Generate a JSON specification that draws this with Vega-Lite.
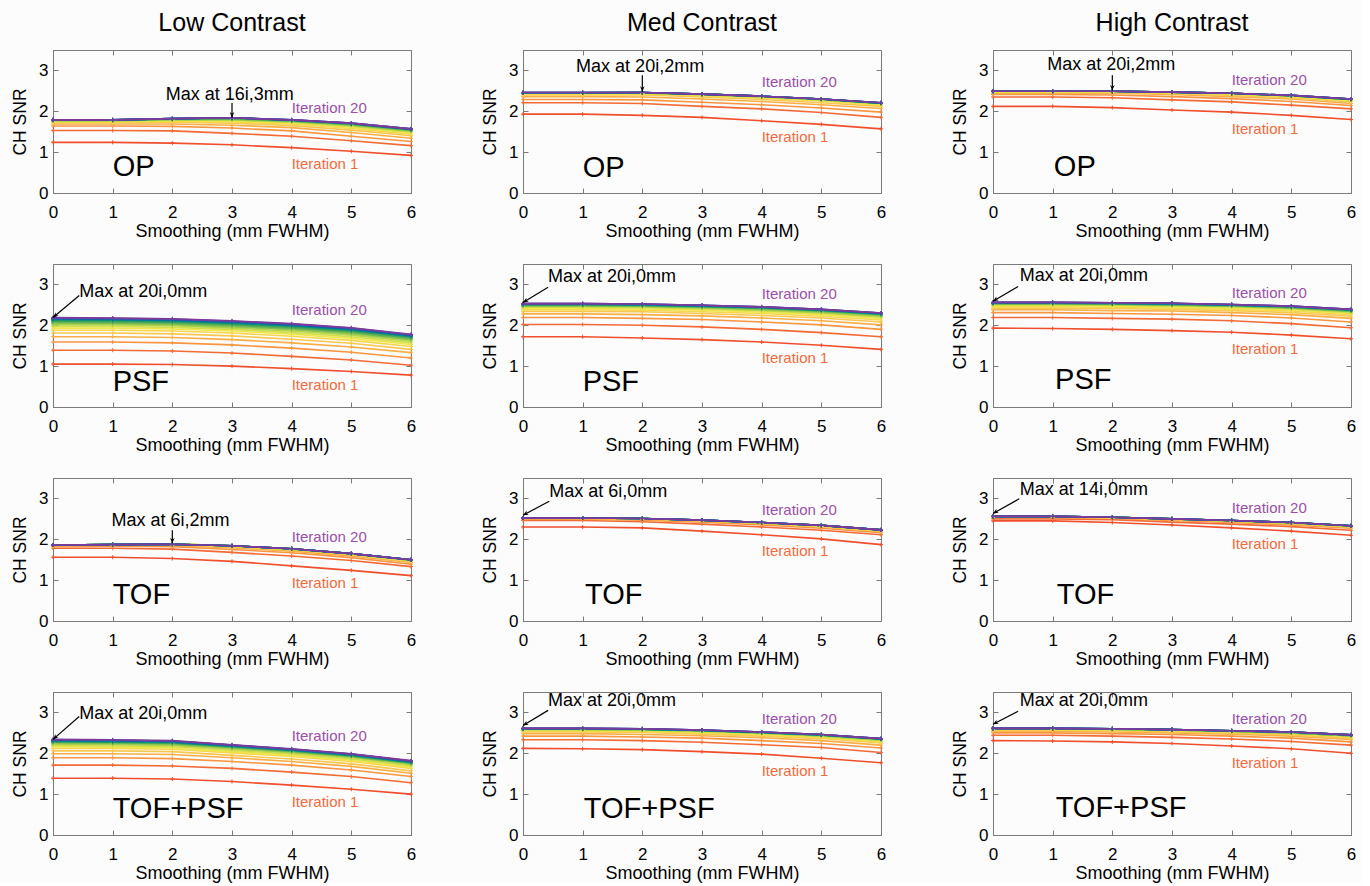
{
"$schema": "https://vega.github.io/schema/vega-lite/v6.json",
"background": "#fcfcfd",
"padding": {"left": 11, "top": 11, "right": 5, "bottom": 0},
"data": {"values": [
{"t":"L","c":"Low Contrast","m":"OP","i":1,"0":1.24,"1":1.24,"2":1.22,"3":1.18,"4":1.11,"5":1.02,"6":0.92},
{"t":"L","c":"Low Contrast","m":"OP","i":2,"0":1.53,"1":1.53,"2":1.52,"3":1.46,"4":1.39,"5":1.28,"6":1.16},
{"t":"L","c":"Low Contrast","m":"OP","i":3,"0":1.64,"1":1.64,"2":1.63,"3":1.59,"4":1.52,"5":1.39,"6":1.26},
{"t":"L","c":"Low Contrast","m":"OP","i":4,"0":1.69,"1":1.69,"2":1.69,"3":1.66,"4":1.60,"5":1.48,"6":1.34},
{"t":"L","c":"Low Contrast","m":"OP","i":5,"0":1.72,"1":1.72,"2":1.73,"3":1.71,"4":1.65,"5":1.54,"6":1.40},
{"t":"L","c":"Low Contrast","m":"OP","i":6,"0":1.74,"1":1.74,"2":1.75,"3":1.74,"4":1.69,"5":1.58,"6":1.44},
{"t":"L","c":"Low Contrast","m":"OP","i":7,"0":1.75,"1":1.75,"2":1.77,"3":1.76,"4":1.71,"5":1.61,"6":1.47},
{"t":"L","c":"Low Contrast","m":"OP","i":8,"0":1.76,"1":1.76,"2":1.78,"3":1.78,"4":1.73,"5":1.63,"6":1.49},
{"t":"L","c":"Low Contrast","m":"OP","i":9,"0":1.77,"1":1.77,"2":1.79,"3":1.79,"4":1.74,"5":1.65,"6":1.51},
{"t":"L","c":"Low Contrast","m":"OP","i":10,"0":1.77,"1":1.77,"2":1.80,"3":1.80,"4":1.75,"5":1.66,"6":1.52},
{"t":"L","c":"Low Contrast","m":"OP","i":11,"0":1.78,"1":1.78,"2":1.80,"3":1.81,"4":1.76,"5":1.67,"6":1.53},
{"t":"L","c":"Low Contrast","m":"OP","i":12,"0":1.78,"1":1.78,"2":1.81,"3":1.82,"4":1.77,"5":1.68,"6":1.54},
{"t":"L","c":"Low Contrast","m":"OP","i":13,"0":1.78,"1":1.78,"2":1.81,"3":1.83,"4":1.77,"5":1.69,"6":1.55},
{"t":"L","c":"Low Contrast","m":"OP","i":14,"0":1.79,"1":1.79,"2":1.81,"3":1.83,"4":1.78,"5":1.69,"6":1.55},
{"t":"L","c":"Low Contrast","m":"OP","i":15,"0":1.79,"1":1.79,"2":1.82,"3":1.84,"4":1.78,"5":1.70,"6":1.56},
{"t":"L","c":"Low Contrast","m":"OP","i":16,"0":1.79,"1":1.79,"2":1.82,"3":1.84,"4":1.78,"5":1.70,"6":1.56},
{"t":"L","c":"Low Contrast","m":"OP","i":17,"0":1.79,"1":1.79,"2":1.82,"3":1.84,"4":1.79,"5":1.70,"6":1.56},
{"t":"L","c":"Low Contrast","m":"OP","i":18,"0":1.79,"1":1.79,"2":1.82,"3":1.84,"4":1.79,"5":1.71,"6":1.57},
{"t":"L","c":"Low Contrast","m":"OP","i":19,"0":1.79,"1":1.79,"2":1.82,"3":1.84,"4":1.79,"5":1.71,"6":1.57},
{"t":"L","c":"Low Contrast","m":"OP","i":20,"0":1.79,"1":1.79,"2":1.82,"3":1.84,"4":1.79,"5":1.71,"6":1.57},
{"t":"L","c":"Med Contrast","m":"OP","i":1,"0":1.93,"1":1.93,"2":1.90,"3":1.85,"4":1.77,"5":1.68,"6":1.57},
{"t":"L","c":"Med Contrast","m":"OP","i":2,"0":2.21,"1":2.21,"2":2.19,"3":2.12,"4":2.06,"5":1.97,"6":1.85},
{"t":"L","c":"Med Contrast","m":"OP","i":3,"0":2.29,"1":2.29,"2":2.28,"3":2.22,"4":2.16,"5":2.08,"6":1.98},
{"t":"L","c":"Med Contrast","m":"OP","i":4,"0":2.36,"1":2.36,"2":2.35,"3":2.30,"4":2.24,"5":2.16,"6":2.07},
{"t":"L","c":"Med Contrast","m":"OP","i":5,"0":2.40,"1":2.40,"2":2.40,"3":2.35,"4":2.29,"5":2.21,"6":2.12},
{"t":"L","c":"Med Contrast","m":"OP","i":6,"0":2.42,"1":2.42,"2":2.42,"3":2.38,"4":2.32,"5":2.25,"6":2.15},
{"t":"L","c":"Med Contrast","m":"OP","i":7,"0":2.43,"1":2.43,"2":2.43,"3":2.39,"4":2.34,"5":2.27,"6":2.17},
{"t":"L","c":"Med Contrast","m":"OP","i":8,"0":2.44,"1":2.44,"2":2.44,"3":2.40,"4":2.35,"5":2.28,"6":2.18},
{"t":"L","c":"Med Contrast","m":"OP","i":9,"0":2.44,"1":2.44,"2":2.45,"3":2.41,"4":2.36,"5":2.28,"6":2.19},
{"t":"L","c":"Med Contrast","m":"OP","i":10,"0":2.45,"1":2.45,"2":2.45,"3":2.41,"4":2.36,"5":2.29,"6":2.19},
{"t":"L","c":"Med Contrast","m":"OP","i":11,"0":2.45,"1":2.45,"2":2.45,"3":2.41,"4":2.36,"5":2.29,"6":2.20},
{"t":"L","c":"Med Contrast","m":"OP","i":12,"0":2.45,"1":2.45,"2":2.46,"3":2.42,"4":2.37,"5":2.29,"6":2.20},
{"t":"L","c":"Med Contrast","m":"OP","i":13,"0":2.45,"1":2.45,"2":2.46,"3":2.42,"4":2.37,"5":2.30,"6":2.20},
{"t":"L","c":"Med Contrast","m":"OP","i":14,"0":2.45,"1":2.45,"2":2.46,"3":2.42,"4":2.37,"5":2.30,"6":2.20},
{"t":"L","c":"Med Contrast","m":"OP","i":15,"0":2.45,"1":2.45,"2":2.46,"3":2.42,"4":2.37,"5":2.30,"6":2.20},
{"t":"L","c":"Med Contrast","m":"OP","i":16,"0":2.45,"1":2.45,"2":2.46,"3":2.42,"4":2.37,"5":2.30,"6":2.20},
{"t":"L","c":"Med Contrast","m":"OP","i":17,"0":2.46,"1":2.46,"2":2.46,"3":2.42,"4":2.37,"5":2.30,"6":2.21},
{"t":"L","c":"Med Contrast","m":"OP","i":18,"0":2.46,"1":2.46,"2":2.46,"3":2.42,"4":2.37,"5":2.30,"6":2.21},
{"t":"L","c":"Med Contrast","m":"OP","i":19,"0":2.46,"1":2.46,"2":2.46,"3":2.42,"4":2.37,"5":2.30,"6":2.21},
{"t":"L","c":"Med Contrast","m":"OP","i":20,"0":2.46,"1":2.46,"2":2.46,"3":2.42,"4":2.37,"5":2.30,"6":2.21},
{"t":"L","c":"High Contrast","m":"OP","i":1,"0":2.12,"1":2.12,"2":2.09,"3":2.03,"4":1.98,"5":1.90,"6":1.80},
{"t":"L","c":"High Contrast","m":"OP","i":2,"0":2.35,"1":2.35,"2":2.33,"3":2.28,"4":2.23,"5":2.15,"6":2.06},
{"t":"L","c":"High Contrast","m":"OP","i":3,"0":2.41,"1":2.41,"2":2.40,"3":2.36,"4":2.31,"5":2.24,"6":2.14},
{"t":"L","c":"High Contrast","m":"OP","i":4,"0":2.44,"1":2.44,"2":2.44,"3":2.41,"4":2.36,"5":2.30,"6":2.19},
{"t":"L","c":"High Contrast","m":"OP","i":5,"0":2.46,"1":2.46,"2":2.46,"3":2.43,"4":2.39,"5":2.33,"6":2.23},
{"t":"L","c":"High Contrast","m":"OP","i":6,"0":2.47,"1":2.47,"2":2.47,"3":2.45,"4":2.41,"5":2.35,"6":2.26},
{"t":"L","c":"High Contrast","m":"OP","i":7,"0":2.48,"1":2.48,"2":2.48,"3":2.46,"4":2.42,"5":2.36,"6":2.27},
{"t":"L","c":"High Contrast","m":"OP","i":8,"0":2.48,"1":2.48,"2":2.48,"3":2.46,"4":2.43,"5":2.37,"6":2.28},
{"t":"L","c":"High Contrast","m":"OP","i":9,"0":2.49,"1":2.49,"2":2.49,"3":2.47,"4":2.43,"5":2.38,"6":2.29},
{"t":"L","c":"High Contrast","m":"OP","i":10,"0":2.49,"1":2.49,"2":2.49,"3":2.47,"4":2.44,"5":2.38,"6":2.29},
{"t":"L","c":"High Contrast","m":"OP","i":11,"0":2.49,"1":2.49,"2":2.49,"3":2.47,"4":2.44,"5":2.38,"6":2.29},
{"t":"L","c":"High Contrast","m":"OP","i":12,"0":2.49,"1":2.49,"2":2.49,"3":2.47,"4":2.44,"5":2.38,"6":2.29},
{"t":"L","c":"High Contrast","m":"OP","i":13,"0":2.49,"1":2.49,"2":2.49,"3":2.47,"4":2.44,"5":2.38,"6":2.29},
{"t":"L","c":"High Contrast","m":"OP","i":14,"0":2.49,"1":2.49,"2":2.49,"3":2.47,"4":2.44,"5":2.38,"6":2.29},
{"t":"L","c":"High Contrast","m":"OP","i":15,"0":2.49,"1":2.49,"2":2.49,"3":2.47,"4":2.44,"5":2.39,"6":2.30},
{"t":"L","c":"High Contrast","m":"OP","i":16,"0":2.49,"1":2.49,"2":2.49,"3":2.47,"4":2.44,"5":2.39,"6":2.30},
{"t":"L","c":"High Contrast","m":"OP","i":17,"0":2.49,"1":2.49,"2":2.49,"3":2.47,"4":2.44,"5":2.39,"6":2.30},
{"t":"L","c":"High Contrast","m":"OP","i":18,"0":2.49,"1":2.49,"2":2.49,"3":2.47,"4":2.44,"5":2.39,"6":2.30},
{"t":"L","c":"High Contrast","m":"OP","i":19,"0":2.49,"1":2.49,"2":2.49,"3":2.47,"4":2.44,"5":2.39,"6":2.30},
{"t":"L","c":"High Contrast","m":"OP","i":20,"0":2.49,"1":2.49,"2":2.49,"3":2.47,"4":2.44,"5":2.39,"6":2.30},
{"t":"L","c":"Low Contrast","m":"PSF","i":1,"0":1.05,"1":1.05,"2":1.04,"3":1.00,"4":0.94,"5":0.87,"6":0.78},
{"t":"L","c":"Low Contrast","m":"PSF","i":2,"0":1.39,"1":1.39,"2":1.37,"3":1.32,"4":1.24,"5":1.15,"6":1.02},
{"t":"L","c":"Low Contrast","m":"PSF","i":3,"0":1.59,"1":1.59,"2":1.57,"3":1.52,"4":1.44,"5":1.34,"6":1.20},
{"t":"L","c":"Low Contrast","m":"PSF","i":4,"0":1.72,"1":1.72,"2":1.70,"3":1.65,"4":1.57,"5":1.47,"6":1.33},
{"t":"L","c":"Low Contrast","m":"PSF","i":5,"0":1.81,"1":1.81,"2":1.79,"3":1.74,"4":1.66,"5":1.56,"6":1.41},
{"t":"L","c":"Low Contrast","m":"PSF","i":6,"0":1.88,"1":1.88,"2":1.86,"3":1.81,"4":1.73,"5":1.63,"6":1.48},
{"t":"L","c":"Low Contrast","m":"PSF","i":7,"0":1.93,"1":1.93,"2":1.91,"3":1.86,"4":1.78,"5":1.68,"6":1.53},
{"t":"L","c":"Low Contrast","m":"PSF","i":8,"0":1.97,"1":1.97,"2":1.95,"3":1.90,"4":1.82,"5":1.72,"6":1.57},
{"t":"L","c":"Low Contrast","m":"PSF","i":9,"0":2.01,"1":2.01,"2":1.99,"3":1.93,"4":1.86,"5":1.76,"6":1.61},
{"t":"L","c":"Low Contrast","m":"PSF","i":10,"0":2.04,"1":2.03,"2":2.01,"3":1.96,"4":1.89,"5":1.79,"6":1.64},
{"t":"L","c":"Low Contrast","m":"PSF","i":11,"0":2.06,"1":2.05,"2":2.03,"3":1.98,"4":1.91,"5":1.81,"6":1.66},
{"t":"L","c":"Low Contrast","m":"PSF","i":12,"0":2.08,"1":2.07,"2":2.05,"3":2.00,"4":1.93,"5":1.83,"6":1.68},
{"t":"L","c":"Low Contrast","m":"PSF","i":13,"0":2.10,"1":2.09,"2":2.07,"3":2.02,"4":1.95,"5":1.85,"6":1.70},
{"t":"L","c":"Low Contrast","m":"PSF","i":14,"0":2.12,"1":2.11,"2":2.09,"3":2.04,"4":1.97,"5":1.87,"6":1.72},
{"t":"L","c":"Low Contrast","m":"PSF","i":15,"0":2.14,"1":2.13,"2":2.11,"3":2.06,"4":1.99,"5":1.89,"6":1.73},
{"t":"L","c":"Low Contrast","m":"PSF","i":16,"0":2.15,"1":2.14,"2":2.12,"3":2.07,"4":2.00,"5":1.90,"6":1.74},
{"t":"L","c":"Low Contrast","m":"PSF","i":17,"0":2.16,"1":2.15,"2":2.13,"3":2.08,"4":2.01,"5":1.91,"6":1.75},
{"t":"L","c":"Low Contrast","m":"PSF","i":18,"0":2.17,"1":2.16,"2":2.14,"3":2.09,"4":2.02,"5":1.92,"6":1.76},
{"t":"L","c":"Low Contrast","m":"PSF","i":19,"0":2.18,"1":2.17,"2":2.15,"3":2.10,"4":2.03,"5":1.93,"6":1.77},
{"t":"L","c":"Low Contrast","m":"PSF","i":20,"0":2.19,"1":2.18,"2":2.16,"3":2.11,"4":2.04,"5":1.94,"6":1.78},
{"t":"L","c":"Med Contrast","m":"PSF","i":1,"0":1.72,"1":1.72,"2":1.69,"3":1.65,"4":1.59,"5":1.51,"6":1.41},
{"t":"L","c":"Med Contrast","m":"PSF","i":2,"0":2.02,"1":2.02,"2":2.00,"3":1.96,"4":1.90,"5":1.82,"6":1.72},
{"t":"L","c":"Med Contrast","m":"PSF","i":3,"0":2.19,"1":2.19,"2":2.17,"3":2.14,"4":2.08,"5":2.01,"6":1.90},
{"t":"L","c":"Med Contrast","m":"PSF","i":4,"0":2.28,"1":2.28,"2":2.26,"3":2.23,"4":2.18,"5":2.11,"6":2.01},
{"t":"L","c":"Med Contrast","m":"PSF","i":5,"0":2.34,"1":2.34,"2":2.33,"3":2.29,"4":2.24,"5":2.18,"6":2.08},
{"t":"L","c":"Med Contrast","m":"PSF","i":6,"0":2.38,"1":2.38,"2":2.37,"3":2.33,"4":2.29,"5":2.22,"6":2.13},
{"t":"L","c":"Med Contrast","m":"PSF","i":7,"0":2.41,"1":2.41,"2":2.40,"3":2.37,"4":2.32,"5":2.26,"6":2.17},
{"t":"L","c":"Med Contrast","m":"PSF","i":8,"0":2.44,"1":2.44,"2":2.43,"3":2.40,"4":2.35,"5":2.29,"6":2.20},
{"t":"L","c":"Med Contrast","m":"PSF","i":9,"0":2.46,"1":2.46,"2":2.45,"3":2.42,"4":2.37,"5":2.31,"6":2.22},
{"t":"L","c":"Med Contrast","m":"PSF","i":10,"0":2.47,"1":2.47,"2":2.46,"3":2.43,"4":2.38,"5":2.32,"6":2.23},
{"t":"L","c":"Med Contrast","m":"PSF","i":11,"0":2.48,"1":2.48,"2":2.47,"3":2.44,"4":2.40,"5":2.34,"6":2.25},
{"t":"L","c":"Med Contrast","m":"PSF","i":12,"0":2.49,"1":2.49,"2":2.48,"3":2.45,"4":2.41,"5":2.35,"6":2.26},
{"t":"L","c":"Med Contrast","m":"PSF","i":13,"0":2.50,"1":2.50,"2":2.49,"3":2.46,"4":2.42,"5":2.36,"6":2.27},
{"t":"L","c":"Med Contrast","m":"PSF","i":14,"0":2.51,"1":2.51,"2":2.50,"3":2.47,"4":2.43,"5":2.37,"6":2.28},
{"t":"L","c":"Med Contrast","m":"PSF","i":15,"0":2.51,"1":2.51,"2":2.50,"3":2.47,"4":2.43,"5":2.37,"6":2.28},
{"t":"L","c":"Med Contrast","m":"PSF","i":16,"0":2.52,"1":2.52,"2":2.51,"3":2.48,"4":2.44,"5":2.38,"6":2.29},
{"t":"L","c":"Med Contrast","m":"PSF","i":17,"0":2.52,"1":2.52,"2":2.51,"3":2.48,"4":2.44,"5":2.38,"6":2.29},
{"t":"L","c":"Med Contrast","m":"PSF","i":18,"0":2.53,"1":2.53,"2":2.52,"3":2.49,"4":2.45,"5":2.39,"6":2.30},
{"t":"L","c":"Med Contrast","m":"PSF","i":19,"0":2.53,"1":2.53,"2":2.52,"3":2.49,"4":2.45,"5":2.39,"6":2.30},
{"t":"L","c":"Med Contrast","m":"PSF","i":20,"0":2.53,"1":2.53,"2":2.52,"3":2.49,"4":2.45,"5":2.39,"6":2.30},
{"t":"L","c":"High Contrast","m":"PSF","i":1,"0":1.93,"1":1.92,"2":1.90,"3":1.87,"4":1.83,"5":1.76,"6":1.67},
{"t":"L","c":"High Contrast","m":"PSF","i":2,"0":2.19,"1":2.19,"2":2.17,"3":2.15,"4":2.11,"5":2.04,"6":1.94},
{"t":"L","c":"High Contrast","m":"PSF","i":3,"0":2.31,"1":2.31,"2":2.29,"3":2.27,"4":2.24,"5":2.18,"6":2.08},
{"t":"L","c":"High Contrast","m":"PSF","i":4,"0":2.38,"1":2.38,"2":2.36,"3":2.35,"4":2.31,"5":2.26,"6":2.17},
{"t":"L","c":"High Contrast","m":"PSF","i":5,"0":2.42,"1":2.42,"2":2.41,"3":2.39,"4":2.36,"5":2.31,"6":2.22},
{"t":"L","c":"High Contrast","m":"PSF","i":6,"0":2.45,"1":2.45,"2":2.44,"3":2.42,"4":2.39,"5":2.35,"6":2.26},
{"t":"L","c":"High Contrast","m":"PSF","i":7,"0":2.48,"1":2.48,"2":2.47,"3":2.45,"4":2.42,"5":2.38,"6":2.29},
{"t":"L","c":"High Contrast","m":"PSF","i":8,"0":2.50,"1":2.50,"2":2.49,"3":2.47,"4":2.44,"5":2.40,"6":2.31},
{"t":"L","c":"High Contrast","m":"PSF","i":9,"0":2.51,"1":2.51,"2":2.50,"3":2.48,"4":2.46,"5":2.41,"6":2.33},
{"t":"L","c":"High Contrast","m":"PSF","i":10,"0":2.52,"1":2.52,"2":2.51,"3":2.49,"4":2.47,"5":2.42,"6":2.34},
{"t":"L","c":"High Contrast","m":"PSF","i":11,"0":2.53,"1":2.53,"2":2.52,"3":2.50,"4":2.48,"5":2.43,"6":2.35},
{"t":"L","c":"High Contrast","m":"PSF","i":12,"0":2.53,"1":2.53,"2":2.52,"3":2.50,"4":2.48,"5":2.43,"6":2.35},
{"t":"L","c":"High Contrast","m":"PSF","i":13,"0":2.54,"1":2.54,"2":2.53,"3":2.52,"4":2.49,"5":2.45,"6":2.37},
{"t":"L","c":"High Contrast","m":"PSF","i":14,"0":2.54,"1":2.54,"2":2.53,"3":2.52,"4":2.49,"5":2.45,"6":2.37},
{"t":"L","c":"High Contrast","m":"PSF","i":15,"0":2.55,"1":2.55,"2":2.54,"3":2.53,"4":2.50,"5":2.46,"6":2.38},
{"t":"L","c":"High Contrast","m":"PSF","i":16,"0":2.55,"1":2.55,"2":2.54,"3":2.53,"4":2.50,"5":2.46,"6":2.38},
{"t":"L","c":"High Contrast","m":"PSF","i":17,"0":2.55,"1":2.55,"2":2.54,"3":2.53,"4":2.50,"5":2.46,"6":2.38},
{"t":"L","c":"High Contrast","m":"PSF","i":18,"0":2.56,"1":2.56,"2":2.55,"3":2.54,"4":2.51,"5":2.47,"6":2.39},
{"t":"L","c":"High Contrast","m":"PSF","i":19,"0":2.56,"1":2.56,"2":2.55,"3":2.54,"4":2.51,"5":2.47,"6":2.39},
{"t":"L","c":"High Contrast","m":"PSF","i":20,"0":2.56,"1":2.56,"2":2.55,"3":2.54,"4":2.51,"5":2.47,"6":2.39},
{"t":"L","c":"Low Contrast","m":"TOF","i":1,"0":1.56,"1":1.56,"2":1.53,"3":1.46,"4":1.35,"5":1.24,"6":1.11},
{"t":"L","c":"Low Contrast","m":"TOF","i":2,"0":1.78,"1":1.78,"2":1.76,"3":1.68,"4":1.59,"5":1.48,"6":1.33},
{"t":"L","c":"Low Contrast","m":"TOF","i":3,"0":1.82,"1":1.83,"2":1.82,"3":1.75,"4":1.67,"5":1.55,"6":1.39},
{"t":"L","c":"Low Contrast","m":"TOF","i":4,"0":1.84,"1":1.85,"2":1.85,"3":1.79,"4":1.71,"5":1.59,"6":1.43},
{"t":"L","c":"Low Contrast","m":"TOF","i":5,"0":1.85,"1":1.86,"2":1.87,"3":1.81,"4":1.74,"5":1.62,"6":1.46},
{"t":"L","c":"Low Contrast","m":"TOF","i":6,"0":1.86,"1":1.87,"2":1.89,"3":1.83,"4":1.75,"5":1.63,"6":1.47},
{"t":"L","c":"Low Contrast","m":"TOF","i":7,"0":1.86,"1":1.87,"2":1.89,"3":1.83,"4":1.76,"5":1.64,"6":1.48},
{"t":"L","c":"Low Contrast","m":"TOF","i":8,"0":1.86,"1":1.87,"2":1.89,"3":1.83,"4":1.76,"5":1.64,"6":1.48},
{"t":"L","c":"Low Contrast","m":"TOF","i":9,"0":1.86,"1":1.87,"2":1.89,"3":1.84,"4":1.76,"5":1.64,"6":1.49},
{"t":"L","c":"Low Contrast","m":"TOF","i":10,"0":1.86,"1":1.87,"2":1.89,"3":1.84,"4":1.76,"5":1.64,"6":1.49},
{"t":"L","c":"Low Contrast","m":"TOF","i":11,"0":1.86,"1":1.87,"2":1.88,"3":1.84,"4":1.77,"5":1.65,"6":1.49},
{"t":"L","c":"Low Contrast","m":"TOF","i":12,"0":1.86,"1":1.87,"2":1.88,"3":1.84,"4":1.77,"5":1.65,"6":1.50},
{"t":"L","c":"Low Contrast","m":"TOF","i":13,"0":1.86,"1":1.87,"2":1.88,"3":1.84,"4":1.77,"5":1.65,"6":1.50},
{"t":"L","c":"Low Contrast","m":"TOF","i":14,"0":1.86,"1":1.87,"2":1.88,"3":1.84,"4":1.77,"5":1.65,"6":1.50},
{"t":"L","c":"Low Contrast","m":"TOF","i":15,"0":1.86,"1":1.87,"2":1.88,"3":1.84,"4":1.77,"5":1.65,"6":1.50},
{"t":"L","c":"Low Contrast","m":"TOF","i":16,"0":1.86,"1":1.87,"2":1.88,"3":1.84,"4":1.77,"5":1.65,"6":1.50},
{"t":"L","c":"Low Contrast","m":"TOF","i":17,"0":1.86,"1":1.87,"2":1.88,"3":1.84,"4":1.77,"5":1.65,"6":1.50},
{"t":"L","c":"Low Contrast","m":"TOF","i":18,"0":1.86,"1":1.87,"2":1.88,"3":1.84,"4":1.77,"5":1.65,"6":1.50},
{"t":"L","c":"Low Contrast","m":"TOF","i":19,"0":1.86,"1":1.87,"2":1.88,"3":1.84,"4":1.77,"5":1.65,"6":1.50},
{"t":"L","c":"Low Contrast","m":"TOF","i":20,"0":1.86,"1":1.87,"2":1.88,"3":1.84,"4":1.77,"5":1.65,"6":1.50},
{"t":"L","c":"Med Contrast","m":"TOF","i":1,"0":2.30,"1":2.30,"2":2.28,"3":2.20,"4":2.11,"5":2.01,"6":1.87},
{"t":"L","c":"Med Contrast","m":"TOF","i":2,"0":2.46,"1":2.46,"2":2.43,"3":2.37,"4":2.30,"5":2.22,"6":2.11},
{"t":"L","c":"Med Contrast","m":"TOF","i":3,"0":2.49,"1":2.49,"2":2.47,"3":2.42,"4":2.35,"5":2.27,"6":2.16},
{"t":"L","c":"Med Contrast","m":"TOF","i":4,"0":2.51,"1":2.51,"2":2.49,"3":2.44,"4":2.38,"5":2.30,"6":2.19},
{"t":"L","c":"Med Contrast","m":"TOF","i":5,"0":2.52,"1":2.51,"2":2.50,"3":2.45,"4":2.39,"5":2.31,"6":2.20},
{"t":"L","c":"Med Contrast","m":"TOF","i":6,"0":2.52,"1":2.52,"2":2.51,"3":2.46,"4":2.40,"5":2.32,"6":2.21},
{"t":"L","c":"Med Contrast","m":"TOF","i":7,"0":2.52,"1":2.52,"2":2.51,"3":2.46,"4":2.40,"5":2.33,"6":2.22},
{"t":"L","c":"Med Contrast","m":"TOF","i":8,"0":2.52,"1":2.52,"2":2.51,"3":2.46,"4":2.40,"5":2.33,"6":2.22},
{"t":"L","c":"Med Contrast","m":"TOF","i":9,"0":2.52,"1":2.52,"2":2.51,"3":2.46,"4":2.40,"5":2.33,"6":2.22},
{"t":"L","c":"Med Contrast","m":"TOF","i":10,"0":2.52,"1":2.52,"2":2.51,"3":2.46,"4":2.40,"5":2.33,"6":2.22},
{"t":"L","c":"Med Contrast","m":"TOF","i":11,"0":2.52,"1":2.52,"2":2.51,"3":2.47,"4":2.41,"5":2.34,"6":2.23},
{"t":"L","c":"Med Contrast","m":"TOF","i":12,"0":2.52,"1":2.52,"2":2.51,"3":2.47,"4":2.41,"5":2.34,"6":2.23},
{"t":"L","c":"Med Contrast","m":"TOF","i":13,"0":2.52,"1":2.52,"2":2.51,"3":2.47,"4":2.41,"5":2.34,"6":2.23},
{"t":"L","c":"Med Contrast","m":"TOF","i":14,"0":2.52,"1":2.52,"2":2.51,"3":2.47,"4":2.41,"5":2.34,"6":2.23},
{"t":"L","c":"Med Contrast","m":"TOF","i":15,"0":2.52,"1":2.52,"2":2.51,"3":2.47,"4":2.41,"5":2.34,"6":2.23},
{"t":"L","c":"Med Contrast","m":"TOF","i":16,"0":2.52,"1":2.52,"2":2.51,"3":2.47,"4":2.41,"5":2.34,"6":2.23},
{"t":"L","c":"Med Contrast","m":"TOF","i":17,"0":2.52,"1":2.52,"2":2.51,"3":2.47,"4":2.41,"5":2.34,"6":2.23},
{"t":"L","c":"Med Contrast","m":"TOF","i":18,"0":2.52,"1":2.52,"2":2.51,"3":2.47,"4":2.41,"5":2.34,"6":2.23},
{"t":"L","c":"Med Contrast","m":"TOF","i":19,"0":2.52,"1":2.52,"2":2.51,"3":2.47,"4":2.41,"5":2.34,"6":2.23},
{"t":"L","c":"Med Contrast","m":"TOF","i":20,"0":2.52,"1":2.52,"2":2.51,"3":2.47,"4":2.41,"5":2.34,"6":2.23},
{"t":"L","c":"High Contrast","m":"TOF","i":1,"0":2.45,"1":2.45,"2":2.41,"3":2.35,"4":2.28,"5":2.20,"6":2.10},
{"t":"L","c":"High Contrast","m":"TOF","i":2,"0":2.50,"1":2.50,"2":2.48,"3":2.42,"4":2.37,"5":2.31,"6":2.22},
{"t":"L","c":"High Contrast","m":"TOF","i":3,"0":2.53,"1":2.53,"2":2.51,"3":2.46,"4":2.41,"5":2.35,"6":2.27},
{"t":"L","c":"High Contrast","m":"TOF","i":4,"0":2.54,"1":2.54,"2":2.52,"3":2.48,"4":2.43,"5":2.37,"6":2.29},
{"t":"L","c":"High Contrast","m":"TOF","i":5,"0":2.55,"1":2.55,"2":2.53,"3":2.49,"4":2.44,"5":2.39,"6":2.30},
{"t":"L","c":"High Contrast","m":"TOF","i":6,"0":2.55,"1":2.55,"2":2.53,"3":2.49,"4":2.45,"5":2.39,"6":2.31},
{"t":"L","c":"High Contrast","m":"TOF","i":7,"0":2.56,"1":2.56,"2":2.54,"3":2.50,"4":2.45,"5":2.40,"6":2.32},
{"t":"L","c":"High Contrast","m":"TOF","i":8,"0":2.56,"1":2.56,"2":2.54,"3":2.50,"4":2.45,"5":2.40,"6":2.32},
{"t":"L","c":"High Contrast","m":"TOF","i":9,"0":2.56,"1":2.56,"2":2.54,"3":2.50,"4":2.45,"5":2.40,"6":2.32},
{"t":"L","c":"High Contrast","m":"TOF","i":10,"0":2.56,"1":2.56,"2":2.54,"3":2.50,"4":2.45,"5":2.40,"6":2.32},
{"t":"L","c":"High Contrast","m":"TOF","i":11,"0":2.56,"1":2.56,"2":2.54,"3":2.50,"4":2.46,"5":2.41,"6":2.33},
{"t":"L","c":"High Contrast","m":"TOF","i":12,"0":2.56,"1":2.56,"2":2.54,"3":2.50,"4":2.46,"5":2.41,"6":2.33},
{"t":"L","c":"High Contrast","m":"TOF","i":13,"0":2.56,"1":2.56,"2":2.54,"3":2.50,"4":2.46,"5":2.41,"6":2.33},
{"t":"L","c":"High Contrast","m":"TOF","i":14,"0":2.56,"1":2.56,"2":2.54,"3":2.50,"4":2.46,"5":2.41,"6":2.33},
{"t":"L","c":"High Contrast","m":"TOF","i":15,"0":2.56,"1":2.56,"2":2.54,"3":2.50,"4":2.46,"5":2.41,"6":2.33},
{"t":"L","c":"High Contrast","m":"TOF","i":16,"0":2.56,"1":2.56,"2":2.54,"3":2.50,"4":2.46,"5":2.41,"6":2.33},
{"t":"L","c":"High Contrast","m":"TOF","i":17,"0":2.56,"1":2.56,"2":2.54,"3":2.50,"4":2.46,"5":2.41,"6":2.33},
{"t":"L","c":"High Contrast","m":"TOF","i":18,"0":2.56,"1":2.56,"2":2.54,"3":2.50,"4":2.46,"5":2.41,"6":2.33},
{"t":"L","c":"High Contrast","m":"TOF","i":19,"0":2.56,"1":2.56,"2":2.54,"3":2.50,"4":2.46,"5":2.41,"6":2.33},
{"t":"L","c":"High Contrast","m":"TOF","i":20,"0":2.56,"1":2.56,"2":2.54,"3":2.50,"4":2.46,"5":2.41,"6":2.33},
{"t":"L","c":"Low Contrast","m":"TOF+PSF","i":1,"0":1.39,"1":1.39,"2":1.37,"3":1.31,"4":1.22,"5":1.12,"6":1.00},
{"t":"L","c":"Low Contrast","m":"TOF+PSF","i":2,"0":1.71,"1":1.71,"2":1.69,"3":1.63,"4":1.54,"5":1.43,"6":1.28},
{"t":"L","c":"Low Contrast","m":"TOF+PSF","i":3,"0":1.89,"1":1.89,"2":1.87,"3":1.80,"4":1.71,"5":1.59,"6":1.43},
{"t":"L","c":"Low Contrast","m":"TOF+PSF","i":4,"0":1.99,"1":1.99,"2":1.97,"3":1.89,"4":1.80,"5":1.68,"6":1.51},
{"t":"L","c":"Low Contrast","m":"TOF+PSF","i":5,"0":2.06,"1":2.06,"2":2.04,"3":1.95,"4":1.86,"5":1.74,"6":1.57},
{"t":"L","c":"Low Contrast","m":"TOF+PSF","i":6,"0":2.12,"1":2.12,"2":2.10,"3":2.01,"4":1.92,"5":1.80,"6":1.63},
{"t":"L","c":"Low Contrast","m":"TOF+PSF","i":7,"0":2.16,"1":2.15,"2":2.13,"3":2.04,"4":1.95,"5":1.83,"6":1.66},
{"t":"L","c":"Low Contrast","m":"TOF+PSF","i":8,"0":2.19,"1":2.18,"2":2.16,"3":2.07,"4":1.98,"5":1.86,"6":1.69},
{"t":"L","c":"Low Contrast","m":"TOF+PSF","i":9,"0":2.22,"1":2.21,"2":2.19,"3":2.10,"4":2.01,"5":1.89,"6":1.72},
{"t":"L","c":"Low Contrast","m":"TOF+PSF","i":10,"0":2.24,"1":2.23,"2":2.21,"3":2.12,"4":2.03,"5":1.91,"6":1.74},
{"t":"L","c":"Low Contrast","m":"TOF+PSF","i":11,"0":2.26,"1":2.25,"2":2.23,"3":2.14,"4":2.04,"5":1.92,"6":1.75},
{"t":"L","c":"Low Contrast","m":"TOF+PSF","i":12,"0":2.27,"1":2.26,"2":2.24,"3":2.15,"4":2.05,"5":1.93,"6":1.76},
{"t":"L","c":"Low Contrast","m":"TOF+PSF","i":13,"0":2.28,"1":2.27,"2":2.25,"3":2.16,"4":2.06,"5":1.94,"6":1.77},
{"t":"L","c":"Low Contrast","m":"TOF+PSF","i":14,"0":2.29,"1":2.28,"2":2.26,"3":2.17,"4":2.07,"5":1.95,"6":1.78},
{"t":"L","c":"Low Contrast","m":"TOF+PSF","i":15,"0":2.30,"1":2.29,"2":2.27,"3":2.18,"4":2.08,"5":1.96,"6":1.79},
{"t":"L","c":"Low Contrast","m":"TOF+PSF","i":16,"0":2.31,"1":2.30,"2":2.28,"3":2.18,"4":2.08,"5":1.96,"6":1.79},
{"t":"L","c":"Low Contrast","m":"TOF+PSF","i":17,"0":2.32,"1":2.31,"2":2.29,"3":2.19,"4":2.09,"5":1.97,"6":1.80},
{"t":"L","c":"Low Contrast","m":"TOF+PSF","i":18,"0":2.33,"1":2.32,"2":2.30,"3":2.20,"4":2.10,"5":1.98,"6":1.81},
{"t":"L","c":"Low Contrast","m":"TOF+PSF","i":19,"0":2.33,"1":2.32,"2":2.30,"3":2.20,"4":2.10,"5":1.98,"6":1.81},
{"t":"L","c":"Low Contrast","m":"TOF+PSF","i":20,"0":2.34,"1":2.33,"2":2.31,"3":2.21,"4":2.11,"5":1.99,"6":1.82},
{"t":"L","c":"Med Contrast","m":"TOF+PSF","i":1,"0":2.12,"1":2.11,"2":2.09,"3":2.04,"4":1.98,"5":1.88,"6":1.77},
{"t":"L","c":"Med Contrast","m":"TOF+PSF","i":2,"0":2.33,"1":2.33,"2":2.31,"3":2.27,"4":2.21,"5":2.14,"6":2.02},
{"t":"L","c":"Med Contrast","m":"TOF+PSF","i":3,"0":2.42,"1":2.42,"2":2.40,"3":2.37,"4":2.31,"5":2.24,"6":2.13},
{"t":"L","c":"Med Contrast","m":"TOF+PSF","i":4,"0":2.48,"1":2.48,"2":2.46,"3":2.43,"4":2.38,"5":2.31,"6":2.20},
{"t":"L","c":"Med Contrast","m":"TOF+PSF","i":5,"0":2.52,"1":2.52,"2":2.51,"3":2.47,"4":2.42,"5":2.36,"6":2.25},
{"t":"L","c":"Med Contrast","m":"TOF+PSF","i":6,"0":2.54,"1":2.54,"2":2.53,"3":2.49,"4":2.44,"5":2.38,"6":2.27},
{"t":"L","c":"Med Contrast","m":"TOF+PSF","i":7,"0":2.56,"1":2.56,"2":2.55,"3":2.52,"4":2.47,"5":2.40,"6":2.30},
{"t":"L","c":"Med Contrast","m":"TOF+PSF","i":8,"0":2.57,"1":2.57,"2":2.56,"3":2.53,"4":2.48,"5":2.41,"6":2.31},
{"t":"L","c":"Med Contrast","m":"TOF+PSF","i":9,"0":2.58,"1":2.58,"2":2.57,"3":2.54,"4":2.49,"5":2.42,"6":2.32},
{"t":"L","c":"Med Contrast","m":"TOF+PSF","i":10,"0":2.59,"1":2.59,"2":2.58,"3":2.55,"4":2.50,"5":2.43,"6":2.33},
{"t":"L","c":"Med Contrast","m":"TOF+PSF","i":11,"0":2.59,"1":2.59,"2":2.58,"3":2.55,"4":2.50,"5":2.44,"6":2.34},
{"t":"L","c":"Med Contrast","m":"TOF+PSF","i":12,"0":2.60,"1":2.60,"2":2.59,"3":2.56,"4":2.51,"5":2.45,"6":2.35},
{"t":"L","c":"Med Contrast","m":"TOF+PSF","i":13,"0":2.60,"1":2.60,"2":2.59,"3":2.56,"4":2.51,"5":2.45,"6":2.35},
{"t":"L","c":"Med Contrast","m":"TOF+PSF","i":14,"0":2.60,"1":2.60,"2":2.59,"3":2.56,"4":2.51,"5":2.45,"6":2.35},
{"t":"L","c":"Med Contrast","m":"TOF+PSF","i":15,"0":2.60,"1":2.60,"2":2.59,"3":2.56,"4":2.51,"5":2.45,"6":2.35},
{"t":"L","c":"Med Contrast","m":"TOF+PSF","i":16,"0":2.60,"1":2.60,"2":2.59,"3":2.56,"4":2.51,"5":2.45,"6":2.35},
{"t":"L","c":"Med Contrast","m":"TOF+PSF","i":17,"0":2.61,"1":2.61,"2":2.60,"3":2.57,"4":2.52,"5":2.46,"6":2.36},
{"t":"L","c":"Med Contrast","m":"TOF+PSF","i":18,"0":2.61,"1":2.61,"2":2.60,"3":2.57,"4":2.52,"5":2.46,"6":2.36},
{"t":"L","c":"Med Contrast","m":"TOF+PSF","i":19,"0":2.61,"1":2.61,"2":2.60,"3":2.57,"4":2.52,"5":2.46,"6":2.36},
{"t":"L","c":"Med Contrast","m":"TOF+PSF","i":20,"0":2.61,"1":2.61,"2":2.60,"3":2.57,"4":2.52,"5":2.46,"6":2.36},
{"t":"L","c":"High Contrast","m":"TOF+PSF","i":1,"0":2.31,"1":2.30,"2":2.28,"3":2.24,"4":2.18,"5":2.11,"6":2.00},
{"t":"L","c":"High Contrast","m":"TOF+PSF","i":2,"0":2.44,"1":2.44,"2":2.42,"3":2.39,"4":2.35,"5":2.29,"6":2.20},
{"t":"L","c":"High Contrast","m":"TOF+PSF","i":3,"0":2.50,"1":2.50,"2":2.48,"3":2.46,"4":2.42,"5":2.37,"6":2.28},
{"t":"L","c":"High Contrast","m":"TOF+PSF","i":4,"0":2.54,"1":2.54,"2":2.52,"3":2.50,"4":2.47,"5":2.42,"6":2.34},
{"t":"L","c":"High Contrast","m":"TOF+PSF","i":5,"0":2.56,"1":2.56,"2":2.55,"3":2.52,"4":2.49,"5":2.45,"6":2.37},
{"t":"L","c":"High Contrast","m":"TOF+PSF","i":6,"0":2.58,"1":2.58,"2":2.57,"3":2.55,"4":2.52,"5":2.48,"6":2.40},
{"t":"L","c":"High Contrast","m":"TOF+PSF","i":7,"0":2.59,"1":2.59,"2":2.58,"3":2.56,"4":2.53,"5":2.49,"6":2.41},
{"t":"L","c":"High Contrast","m":"TOF+PSF","i":8,"0":2.59,"1":2.59,"2":2.58,"3":2.56,"4":2.53,"5":2.49,"6":2.41},
{"t":"L","c":"High Contrast","m":"TOF+PSF","i":9,"0":2.60,"1":2.60,"2":2.59,"3":2.57,"4":2.54,"5":2.50,"6":2.43},
{"t":"L","c":"High Contrast","m":"TOF+PSF","i":10,"0":2.60,"1":2.60,"2":2.59,"3":2.57,"4":2.54,"5":2.50,"6":2.43},
{"t":"L","c":"High Contrast","m":"TOF+PSF","i":11,"0":2.60,"1":2.60,"2":2.59,"3":2.57,"4":2.54,"5":2.50,"6":2.43},
{"t":"L","c":"High Contrast","m":"TOF+PSF","i":12,"0":2.60,"1":2.60,"2":2.59,"3":2.57,"4":2.54,"5":2.50,"6":2.43},
{"t":"L","c":"High Contrast","m":"TOF+PSF","i":13,"0":2.61,"1":2.61,"2":2.60,"3":2.58,"4":2.55,"5":2.52,"6":2.45},
{"t":"L","c":"High Contrast","m":"TOF+PSF","i":14,"0":2.61,"1":2.61,"2":2.60,"3":2.58,"4":2.55,"5":2.52,"6":2.45},
{"t":"L","c":"High Contrast","m":"TOF+PSF","i":15,"0":2.61,"1":2.61,"2":2.60,"3":2.58,"4":2.55,"5":2.52,"6":2.45},
{"t":"L","c":"High Contrast","m":"TOF+PSF","i":16,"0":2.61,"1":2.61,"2":2.60,"3":2.58,"4":2.55,"5":2.52,"6":2.45},
{"t":"L","c":"High Contrast","m":"TOF+PSF","i":17,"0":2.61,"1":2.61,"2":2.60,"3":2.58,"4":2.55,"5":2.52,"6":2.45},
{"t":"L","c":"High Contrast","m":"TOF+PSF","i":18,"0":2.61,"1":2.61,"2":2.60,"3":2.58,"4":2.55,"5":2.52,"6":2.45},
{"t":"L","c":"High Contrast","m":"TOF+PSF","i":19,"0":2.61,"1":2.61,"2":2.60,"3":2.58,"4":2.55,"5":2.52,"6":2.45},
{"t":"L","c":"High Contrast","m":"TOF+PSF","i":20,"0":2.61,"1":2.61,"2":2.60,"3":2.58,"4":2.55,"5":2.52,"6":2.45},

{"t":"max","c":"Low Contrast","m":"OP","x":1.89,"y":2.41,"s":"Max at 16i,3mm"},
{"t":"arr","c":"Low Contrast","m":"OP","x":3,"y":1.85,"x2":3,"y2":2.20,"a":0},
{"t":"it20","c":"Low Contrast","m":"OP","x":4,"y":2.09},
{"t":"it1","c":"Low Contrast","m":"OP","x":4,"y":0.71},
{"t":"meth","c":"Low Contrast","m":"OP","x":1.0,"y":0.64},
{"t":"max","c":"Med Contrast","m":"OP","x":0.89,"y":3.08,"s":"Max at 20i,2mm"},
{"t":"arr","c":"Med Contrast","m":"OP","x":2,"y":2.48,"x2":2,"y2":2.88,"a":0},
{"t":"it20","c":"Med Contrast","m":"OP","x":4,"y":2.71},
{"t":"it1","c":"Med Contrast","m":"OP","x":4,"y":1.37},
{"t":"meth","c":"Med Contrast","m":"OP","x":1.0,"y":0.61},
{"t":"max","c":"High Contrast","m":"OP","x":0.91,"y":3.14,"s":"Max at 20i,2mm"},
{"t":"arr","c":"High Contrast","m":"OP","x":2,"y":2.51,"x2":2,"y2":2.88,"a":0},
{"t":"it20","c":"High Contrast","m":"OP","x":4,"y":2.76},
{"t":"it1","c":"High Contrast","m":"OP","x":4,"y":1.57},
{"t":"meth","c":"High Contrast","m":"OP","x":1.02,"y":0.64},
{"t":"max","c":"Low Contrast","m":"PSF","x":0.44,"y":2.81,"s":"Max at 20i,0mm"},
{"t":"arr","c":"Low Contrast","m":"PSF","x":0,"y":2.19,"x2":0.44,"y2":2.73,"a":50},
{"t":"it20","c":"Low Contrast","m":"PSF","x":4,"y":2.37},
{"t":"it1","c":"Low Contrast","m":"PSF","x":4,"y":0.54},
{"t":"meth","c":"Low Contrast","m":"PSF","x":1.0,"y":0.62},
{"t":"max","c":"Med Contrast","m":"PSF","x":0.42,"y":3.18,"s":"Max at 20i,0mm"},
{"t":"arr","c":"Med Contrast","m":"PSF","x":0,"y":2.56,"x2":0.42,"y2":2.93,"a":59},
{"t":"it20","c":"Med Contrast","m":"PSF","x":4,"y":2.76},
{"t":"it1","c":"Med Contrast","m":"PSF","x":4,"y":1.19},
{"t":"meth","c":"Med Contrast","m":"PSF","x":1.0,"y":0.62},
{"t":"max","c":"High Contrast","m":"PSF","x":0.45,"y":3.20,"s":"Max at 20i,0mm"},
{"t":"arr","c":"High Contrast","m":"PSF","x":0,"y":2.59,"x2":0.42,"y2":2.95,"a":59},
{"t":"it20","c":"High Contrast","m":"PSF","x":4,"y":2.80},
{"t":"it1","c":"High Contrast","m":"PSF","x":4,"y":1.41},
{"t":"meth","c":"High Contrast","m":"PSF","x":1.04,"y":0.66},
{"t":"max","c":"Low Contrast","m":"TOF","x":0.98,"y":2.44,"s":"Max at 6i,2mm"},
{"t":"arr","c":"Low Contrast","m":"TOF","x":2,"y":1.90,"x2":2,"y2":2.22,"a":0},
{"t":"it20","c":"Low Contrast","m":"TOF","x":4,"y":2.06},
{"t":"it1","c":"Low Contrast","m":"TOF","x":4,"y":0.93},
{"t":"meth","c":"Low Contrast","m":"TOF","x":1.0,"y":0.63},
{"t":"max","c":"Med Contrast","m":"TOF","x":0.44,"y":3.15,"s":"Max at 6i,0mm"},
{"t":"arr","c":"Med Contrast","m":"TOF","x":0,"y":2.59,"x2":0.44,"y2":2.93,"a":62},
{"t":"it20","c":"Med Contrast","m":"TOF","x":4,"y":2.72},
{"t":"it1","c":"Med Contrast","m":"TOF","x":4,"y":1.71},
{"t":"meth","c":"Med Contrast","m":"TOF","x":1.04,"y":0.63},
{"t":"max","c":"High Contrast","m":"TOF","x":0.45,"y":3.21,"s":"Max at 14i,0mm"},
{"t":"arr","c":"High Contrast","m":"TOF","x":0,"y":2.63,"x2":0.44,"y2":2.99,"a":59},
{"t":"it20","c":"High Contrast","m":"TOF","x":4,"y":2.77},
{"t":"it1","c":"High Contrast","m":"TOF","x":4,"y":1.89},
{"t":"meth","c":"High Contrast","m":"TOF","x":1.07,"y":0.63},
{"t":"max","c":"Low Contrast","m":"TOF+PSF","x":0.44,"y":2.97,"s":"Max at 20i,0mm"},
{"t":"arr","c":"Low Contrast","m":"TOF+PSF","x":0,"y":2.34,"x2":0.44,"y2":2.90,"a":47},
{"t":"it20","c":"Low Contrast","m":"TOF+PSF","x":4,"y":2.42},
{"t":"it1","c":"Low Contrast","m":"TOF+PSF","x":4,"y":0.81},
{"t":"meth","c":"Low Contrast","m":"TOF+PSF","x":1.0,"y":0.63},
{"t":"max","c":"Med Contrast","m":"TOF+PSF","x":0.42,"y":3.28,"s":"Max at 20i,0mm"},
{"t":"arr","c":"Med Contrast","m":"TOF+PSF","x":0,"y":2.68,"x2":0.42,"y2":3.05,"a":59},
{"t":"it20","c":"Med Contrast","m":"TOF+PSF","x":4,"y":2.83},
{"t":"it1","c":"Med Contrast","m":"TOF+PSF","x":4,"y":1.57},
{"t":"meth","c":"Med Contrast","m":"TOF+PSF","x":1.02,"y":0.63},
{"t":"max","c":"High Contrast","m":"TOF+PSF","x":0.45,"y":3.28,"s":"Max at 20i,0mm"},
{"t":"arr","c":"High Contrast","m":"TOF+PSF","x":0,"y":2.71,"x2":0.42,"y2":3.03,"a":61},
{"t":"it20","c":"High Contrast","m":"TOF+PSF","x":4,"y":2.85},
{"t":"it1","c":"High Contrast","m":"TOF+PSF","x":4,"y":1.77},
{"t":"meth","c":"High Contrast","m":"TOF+PSF","x":1.05,"y":0.65}
]},
"facet": {
  "column": {"field": "c", "type": "nominal", "sort": ["Low Contrast", "Med Contrast", "High Contrast"],
    "header": {"title": null, "labelFontSize": 25, "labelFont": "Liberation Sans", "labelColor": "black", "labelPadding": 14}},
  "row": {"field": "m", "type": "nominal", "sort": ["OP", "PSF", "TOF", "TOF+PSF"],
    "header": {"title": null, "labels": false}}
},
"spacing": {"row": 71, "column": 112},
"bounds": "flush",
"resolve": {"scale": {"x": "independent", "y": "independent"}, "axis": {"x": "independent", "y": "independent"}},
"spec": {
  "width": 358,
  "height": 143,
  "resolve": {"axis": {"x": "independent", "y": "independent"}},
  "layer": [
    {
      "transform": [{"filter": "datum.t === 'L'"}, {"fold": ["0", "1", "2", "3", "4", "5", "6"], "as": ["x", "y"]}],
      "encoding": {
        "x": {"field": "x", "type": "quantitative", "scale": {"domain": [0, 6], "nice": false, "zero": false},
          "axis": {"values": [0, 1, 2, 3, 4, 5, 6], "title": "Smoothing (mm FWHM)", "labelPadding": 16, "titlePadding": 2}},
        "y": {"field": "y", "type": "quantitative", "scale": {"domain": [0, 3.5], "nice": false},
          "axis": {"values": [0, 1, 2, 3], "title": "CH SNR"}},
        "color": {"field": "i", "type": "quantitative", "legend": null,
          "scale": {"domain": [1, 2, 3, 5, 7, 10, 14, 18, 20],
            "range": ["#ef4f2c", "#f26a36", "#f79540", "#f8c750", "#f1e64a", "#9ccb4e", "#2a9a5e", "#2459a6", "#7d3a9a"]}},
        "detail": {"field": "i", "type": "nominal"}
      },
      "layer": [
        {"mark": {"type": "line", "strokeWidth": 1.6}},
        {"mark": {"type": "point", "shape": "M-1,0L1,0M0,-1L0,1", "size": 16, "strokeWidth": 1, "filled": false, "opacity": 1}}
      ]
    },
    {
      "encoding": {
        "x": {"field": "x", "type": "quantitative", "scale": {"domain": [0, 6], "nice": false, "zero": false},
          "axis": {"orient": "top", "values": [0, 1, 2, 3, 4, 5, 6], "labels": false, "title": null, "domain": false}},
        "y": {"field": "y", "type": "quantitative", "scale": {"domain": [0, 3.5], "nice": false},
          "axis": {"orient": "right", "values": [0, 1, 2, 3], "labels": false, "title": null, "domain": false}}
      },
      "layer": [
        {
          "transform": [{"filter": "datum.t === 'max'"}],
          "mark": {"type": "text", "align": "left", "baseline": "middle", "fontSize": 18, "color": "black", "font": "Liberation Sans"},
          "encoding": {"text": {"field": "s"}}
        },
        {
          "transform": [{"filter": "datum.t === 'arr'"}],
          "mark": {"type": "rule", "color": "black", "strokeWidth": 1.2},
          "encoding": {"x2": {"field": "x2"}, "y2": {"field": "y2"}}
        },
        {
          "transform": [{"filter": "datum.t === 'arr'"}],
          "mark": {"type": "point", "shape": "M0,0L-0.55,-1.3L0,-0.9L0.55,-1.3Z", "filled": true, "color": "black", "size": 70, "opacity": 1},
          "encoding": {"angle": {"field": "a", "type": "quantitative", "scale": null}}
        },
        {
          "transform": [{"filter": "datum.t === 'it20'"}],
          "mark": {"type": "text", "align": "left", "baseline": "middle", "fontSize": 15, "color": "#9b50a6", "text": "Iteration 20", "font": "Liberation Sans"}
        },
        {
          "transform": [{"filter": "datum.t === 'it1'"}],
          "mark": {"type": "text", "align": "left", "baseline": "middle", "fontSize": 15, "color": "#f26b3c", "text": "Iteration 1", "font": "Liberation Sans"}
        },
        {
          "transform": [{"filter": "datum.t === 'meth'"}],
          "mark": {"type": "text", "align": "left", "baseline": "middle", "fontSize": 29, "color": "black", "font": "Liberation Sans"},
          "encoding": {"text": {"field": "m"}}
        }
      ]
    }
  ]
},
"config": {
  "font": "Liberation Sans",
  "view": {"stroke": "#7a7a7a", "strokeWidth": 1},
  "axis": {"domainColor": "#7a7a7a", "tickColor": "#7a7a7a", "tickSize": -5, "labelPadding": 10,
    "labelFontSize": 17, "titleFontSize": 18, "titleFontWeight": "normal", "labelColor": "black", "titleColor": "black",
    "grid": false, "labelFlush": false, "labelOverlap": false, "labelFont": "Liberation Sans", "titleFont": "Liberation Sans"},
  "axisY": {"titlePadding": 9, "titleFontSize": 17.5}
}
}
